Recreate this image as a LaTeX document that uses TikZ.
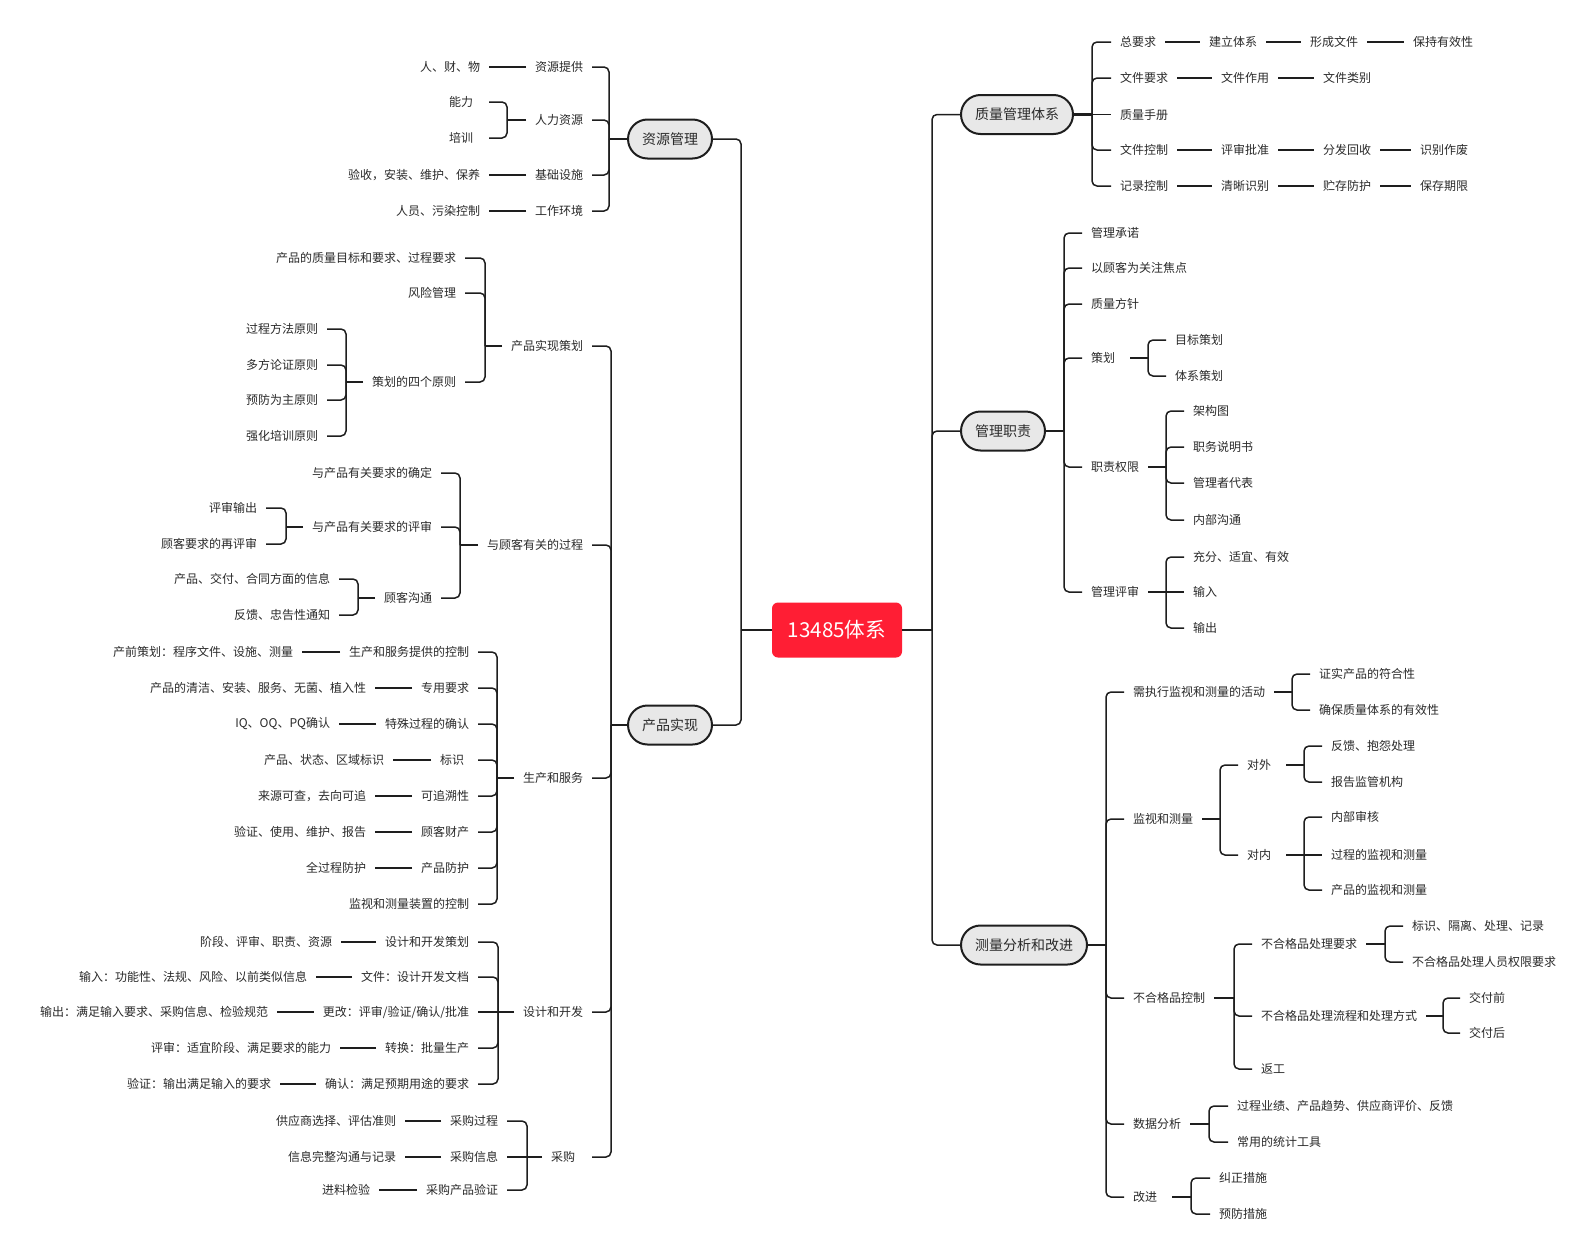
\documentclass[tikz,border=0pt]{standalone}
\usepackage{fontspec}
\newfontfamily\cjk{Noto Sans CJK SC}
\definecolor{linecol}{HTML}{1E1E1E}
\definecolor{textcol}{HTML}{2A2A2A}
\definecolor{topfill}{HTML}{E8E8E8}
\definecolor{rootred}{HTML}{FF1E34}
\tikzset{
  lbl/.style={font=\cjk\fontsize{6pt}{7pt}\selectfont, text=textcol, inner xsep=4.5pt, inner ysep=1.5pt, outer sep=0pt},
  lL/.style={lbl, anchor=east},
  lR/.style={lbl, anchor=west},
  topic/.style={font=\cjk\fontsize{7pt}{8pt}\selectfont, text=textcol, draw=linecol, line width=1pt, fill=topfill, rounded corners=9.75pt, minimum height=19.5pt, inner xsep=7pt, outer sep=0pt},
  root/.style={font=\cjk\fontsize{10.3pt}{12pt}\selectfont, text=white, fill=rootred, rounded corners=3pt, minimum width=65pt, minimum height=27.5pt, outer sep=0pt},
  link/.style={draw=linecol, line width=0.75pt, rounded corners=2.5pt},
  stub/.style={draw=linecol, line width=1.3pt},
}
\newcommand\padx[1]{\rule{#1}{0pt}}
\newcommand\brL[3]{\draw[stub] (#1.west) -- ++(-#2,0) coordinate (#1b);
  \foreach \ch in {#3}{\draw[link] (#1b) |- (\ch.east);}}
\newcommand\brR[3]{\draw[stub] (#1.east) -- ++(#2,0) coordinate (#1b);
  \foreach \ch in {#3}{\draw[link] (#1b) |- (\ch.west);}}
\begin{document}
\begin{tikzpicture}[x=0.5pt,y=-0.5pt]
\fill[white] (0,0) rectangle (1591,1258);
\useasboundingbox (0,0) rectangle (1591,1258);

% ---------- root ----------
\node[root] (root) at (837,630) {13485体系};

% ---------- left: 资源管理 ----------
\node[topic, anchor=east] (R1) at (712,139) {资源管理};
\node[lL] (a1) at (592,67) {资源提供};
\node[lL] (a2) at (592,120) {人力资源};
\node[lL] (a3) at (592,175) {基础设施};
\node[lL] (a4) at (592,211) {工作环境};
\node[lL] (a1x) at (489,67) {人、财、物};
\node[lL] (a21) at (489,102) {能力\padx{3.5pt}};
\node[lL] (a22) at (489,138) {培训\padx{3.5pt}};
\node[lL] (a3x) at (489,175) {验收，安装、维护、保养};
\node[lL] (a4x) at (489,211) {人员、污染控制};

% ---------- left: 产品实现 ----------
\node[topic, anchor=east] (R2) at (712,725) {产品实现};
\node[lL] (b1) at (592,346) {产品实现策划};
\node[lL] (b2) at (592,545) {与顾客有关的过程};
\node[lL] (b3) at (592,778) {生产和服务};
\node[lL] (b4) at (592,1012) {设计和开发};
\node[lL] (b5) at (592,1157) {采购\padx{4pt}};

\node[lL] (b11) at (465,258) {产品的质量目标和要求、过程要求};
\node[lL] (b12) at (465,293) {风险管理};
\node[lL] (b13) at (465,382) {策划的四个原则};
\node[lL] (b131) at (327,329) {过程方法原则};
\node[lL] (b132) at (327,365) {多方论证原则};
\node[lL] (b133) at (327,400) {预防为主原则};
\node[lL] (b134) at (327,436) {强化培训原则};

\node[lL] (b21) at (441,473) {与产品有关要求的确定};
\node[lL] (b22) at (441,527) {与产品有关要求的评审};
\node[lL] (b23) at (441,598) {顾客沟通};
\node[lL] (b221) at (266,508) {评审输出};
\node[lL] (b222) at (266,544) {顾客要求的再评审};
\node[lL] (b231) at (339,579) {产品、交付、合同方面的信息};
\node[lL] (b232) at (339,615) {反馈、忠告性通知};

\node[lL] (c1) at (478,652) {生产和服务提供的控制};
\node[lL] (c2) at (478,688) {专用要求};
\node[lL] (c3) at (478,724) {特殊过程的确认};
\node[lL] (c4) at (478,760) {标识\padx{2.5pt}};
\node[lL] (c5) at (478,796) {可追溯性};
\node[lL] (c6) at (478,832) {顾客财产};
\node[lL] (c7) at (478,868) {产品防护};
\node[lL] (c8) at (478,904) {监视和测量装置的控制};
\node[lL] (c1x) at (302,652) {产前策划：程序文件、设施、测量};
\node[lL] (c2x) at (375,688) {产品的清洁、安装、服务、无菌、植入性};
\node[lL] (c3x) at (339,724) {IQ、OQ、PQ确认};
\node[lL] (c4x) at (393,760) {产品、状态、区域标识};
\node[lL] (c5x) at (375,796) {来源可查，去向可追};
\node[lL] (c6x) at (375,832) {验证、使用、维护、报告};
\node[lL] (c7x) at (375,868) {全过程防护};

\node[lL] (d1) at (478,942) {设计和开发策划};
\node[lL] (d2) at (478,977) {文件：设计开发文档};
\node[lL] (d3) at (478,1012) {更改：评审/验证/确认/批准};
\node[lL] (d4) at (478,1048) {转换：批量生产};
\node[lL] (d5) at (478,1084) {确认：满足预期用途的要求};
\node[lL] (d1x) at (341,942) {阶段、评审、职责、资源};
\node[lL] (d2x) at (316,977) {输入：功能性、法规、风险、以前类似信息};
\node[lL] (d3x) at (277,1012) {输出：满足输入要求、采购信息、检验规范};
\node[lL] (d4x) at (340,1048) {评审：适宜阶段、满足要求的能力};
\node[lL] (d5x) at (280,1084) {验证：输出满足输入的要求};

\node[lL] (e1) at (507,1121) {采购过程};
\node[lL] (e2) at (507,1157) {采购信息};
\node[lL] (e3) at (507,1190) {采购产品验证};
\node[lL] (e1x) at (405,1121) {供应商选择、评估准则};
\node[lL] (e2x) at (405,1157) {信息完整沟通与记录};
\node[lL] (e3x) at (379,1190) {进料检验};

% ---------- right: 质量管理体系 ----------
\node[topic, anchor=west] (R3) at (961,114.5) {质量管理体系};
\node[lR] (f1) at (1111,42) {总要求};
\node[lR] (f2) at (1111,78) {文件要求};
\node[lR] (f3) at (1111,114.5) {质量手册};
\node[lR] (f4) at (1111,150) {文件控制};
\node[lR] (f5) at (1111,186) {记录控制};
\node[lR] (f11) at (1200,42) {建立体系};
\node[lR] (f12) at (1301,42) {形成文件};
\node[lR] (f13) at (1404,42) {保持有效性};
\node[lR] (f21) at (1212,78) {文件作用};
\node[lR] (f22) at (1314,78) {文件类别};
\node[lR] (f41) at (1212,150) {评审批准};
\node[lR] (f42) at (1314,150) {分发回收};
\node[lR] (f43) at (1411,150) {识别作废};
\node[lR] (f51) at (1212,186) {清晰识别};
\node[lR] (f52) at (1314,186) {贮存防护};
\node[lR] (f53) at (1411,186) {保存期限};

% ---------- right: 管理职责 ----------
\node[topic, anchor=west] (R4) at (961,431) {管理职责};
\node[lR] (g1) at (1082,233) {管理承诺};
\node[lR] (g2) at (1082,268) {以顾客为关注焦点};
\node[lR] (g3) at (1082,304) {质量方针};
\node[lR] (g4) at (1082,358) {策划\padx{3pt}};
\node[lR] (g5) at (1082,467) {职责权限};
\node[lR] (g6) at (1082,592) {管理评审};
\node[lR] (g41) at (1166,340) {目标策划};
\node[lR] (g42) at (1166,376) {体系策划};
\node[lR] (g51) at (1184,411) {架构图};
\node[lR] (g52) at (1184,447) {职务说明书};
\node[lR] (g53) at (1184,483) {管理者代表};
\node[lR] (g54) at (1184,520) {内部沟通};
\node[lR] (g61) at (1184,557) {充分、适宜、有效};
\node[lR] (g62) at (1184,592) {输入};
\node[lR] (g63) at (1184,628) {输出};

% ---------- right: 测量分析和改进 ----------
\node[topic, anchor=west] (R5) at (961,945) {测量分析和改进};
\node[lR] (h1) at (1124,692) {需执行监视和测量的活动};
\node[lR] (h2) at (1124,819) {监视和测量};
\node[lR] (h3) at (1124,998) {不合格品控制};
\node[lR] (h4) at (1124,1124) {数据分析};
\node[lR] (h5) at (1124,1197) {改进\padx{3pt}};
\node[lR] (h11) at (1310,674) {证实产品的符合性};
\node[lR] (h12) at (1310,710) {确保质量体系的有效性};
\node[lR] (h21) at (1238,765) {对外\padx{3pt}};
\node[lR] (h22) at (1238,855) {对内\padx{3pt}};
\node[lR] (h211) at (1322,746) {反馈、抱怨处理};
\node[lR] (h212) at (1322,782) {报告监管机构};
\node[lR] (h221) at (1322,817) {内部审核};
\node[lR] (h222) at (1322,855) {过程的监视和测量};
\node[lR] (h223) at (1322,890) {产品的监视和测量};
\node[lR] (h31) at (1252,944) {不合格品处理要求};
\node[lR] (h32) at (1252,1016) {不合格品处理流程和处理方式};
\node[lR] (h33) at (1252,1069) {返工};
\node[lR] (h311) at (1403,926) {标识、隔离、处理、记录};
\node[lR] (h312) at (1403,962) {不合格品处理人员权限要求};
\node[lR] (h321) at (1460,998) {交付前};
\node[lR] (h322) at (1460,1033) {交付后};
\node[lR] (h41) at (1228,1106) {过程业绩、产品趋势、供应商评价、反馈};
\node[lR] (h42) at (1228,1142) {常用的统计工具};
\node[lR] (h51) at (1210,1178) {纠正措施};
\node[lR] (h52) at (1210,1214) {预防措施};

% ---------- trunks ----------
\draw[link] (root.west) -- ++(-31,0) coordinate (Lt);
\draw[link] (Lt) |- (R1.east);
\draw[link] (Lt) |- (R2.east);
\draw[link] (root.east) -- ++(30,0) coordinate (Rt);
\draw[link] (Rt) |- (R3.west);
\draw[link] (Rt) |- (R4.west);
\draw[link] (Rt) |- (R5.west);

% ---------- left connectors ----------
\brL{R1}{19}{a1,a2,a3,a4}
\draw[link] (a1.west) -- (a1x.east);
\brL{a2}{19}{a21,a22}
\draw[link] (a3.west) -- (a3x.east);
\draw[link] (a4.west) -- (a4x.east);

\brL{R2}{17}{b1,b2,b3,b4,b5}
\brL{b1}{17}{b11,b12,b13}
\brL{b13}{17}{b131,b132,b133,b134}
\brL{b2}{18}{b21,b22,b23}
\brL{b22}{17}{b221,b222}
\brL{b23}{17}{b231,b232}
\brL{b3}{17}{c1,c2,c3,c4,c5,c6,c7,c8}
\draw[link] (c1.west) -- (c1x.east);
\draw[link] (c2.west) -- (c2x.east);
\draw[link] (c3.west) -- (c3x.east);
\draw[link] (c4.west) -- (c4x.east);
\draw[link] (c5.west) -- (c5x.east);
\draw[link] (c6.west) -- (c6x.east);
\draw[link] (c7.west) -- (c7x.east);
\brL{b4}{16}{d1,d2,d4,d5}
\draw[link] (b4b) -- (d3.east);
\draw[link] (d1.west) -- (d1x.east);
\draw[link] (d2.west) -- (d2x.east);
\draw[link] (d3.west) -- (d3x.east);
\draw[link] (d4.west) -- (d4x.east);
\draw[link] (d5.west) -- (d5x.east);
\brL{b5}{15}{e1,e3}
\draw[link] (b5b) -- (e2.east);
\draw[link] (e1.west) -- (e1x.east);
\draw[link] (e2.west) -- (e2x.east);
\draw[link] (e3.west) -- (e3x.east);

% ---------- right connectors ----------
\brR{R3}{19}{f1,f2,f4,f5}
\draw[link] (R3b) -- (f3.west);
\draw[link] (f1.east) -- (f11.west);
\draw[link] (f11.east) -- (f12.west);
\draw[link] (f12.east) -- (f13.west);
\draw[link] (f2.east) -- (f21.west);
\draw[link] (f21.east) -- (f22.west);
\draw[link] (f4.east) -- (f41.west);
\draw[link] (f41.east) -- (f42.west);
\draw[link] (f42.east) -- (f43.west);
\draw[link] (f5.east) -- (f51.west);
\draw[link] (f51.east) -- (f52.west);
\draw[link] (f52.east) -- (f53.west);

\brR{R4}{19}{g1,g2,g3,g4,g5,g6}
\brR{g4}{18}{g41,g42}
\brR{g5}{18}{g51,g52,g53,g54}
\brR{g6}{18}{g61,g63}
\draw[link] (g6b) -- (g62.west);

\brR{R5}{19}{h1,h2,h3,h4,h5}
\brR{h1}{18}{h11,h12}
\brR{h2}{18}{h21,h22}
\brR{h21}{18}{h211,h212}
\brR{h22}{18}{h221,h223}
\draw[link] (h22b) -- (h222.west);
\brR{h3}{20}{h31,h32,h33}
\brR{h31}{19}{h311,h312}
\brR{h32}{17}{h321,h322}
\brR{h4}{19}{h41,h42}
\brR{h5}{19}{h51,h52}
\end{tikzpicture}
\end{document}
